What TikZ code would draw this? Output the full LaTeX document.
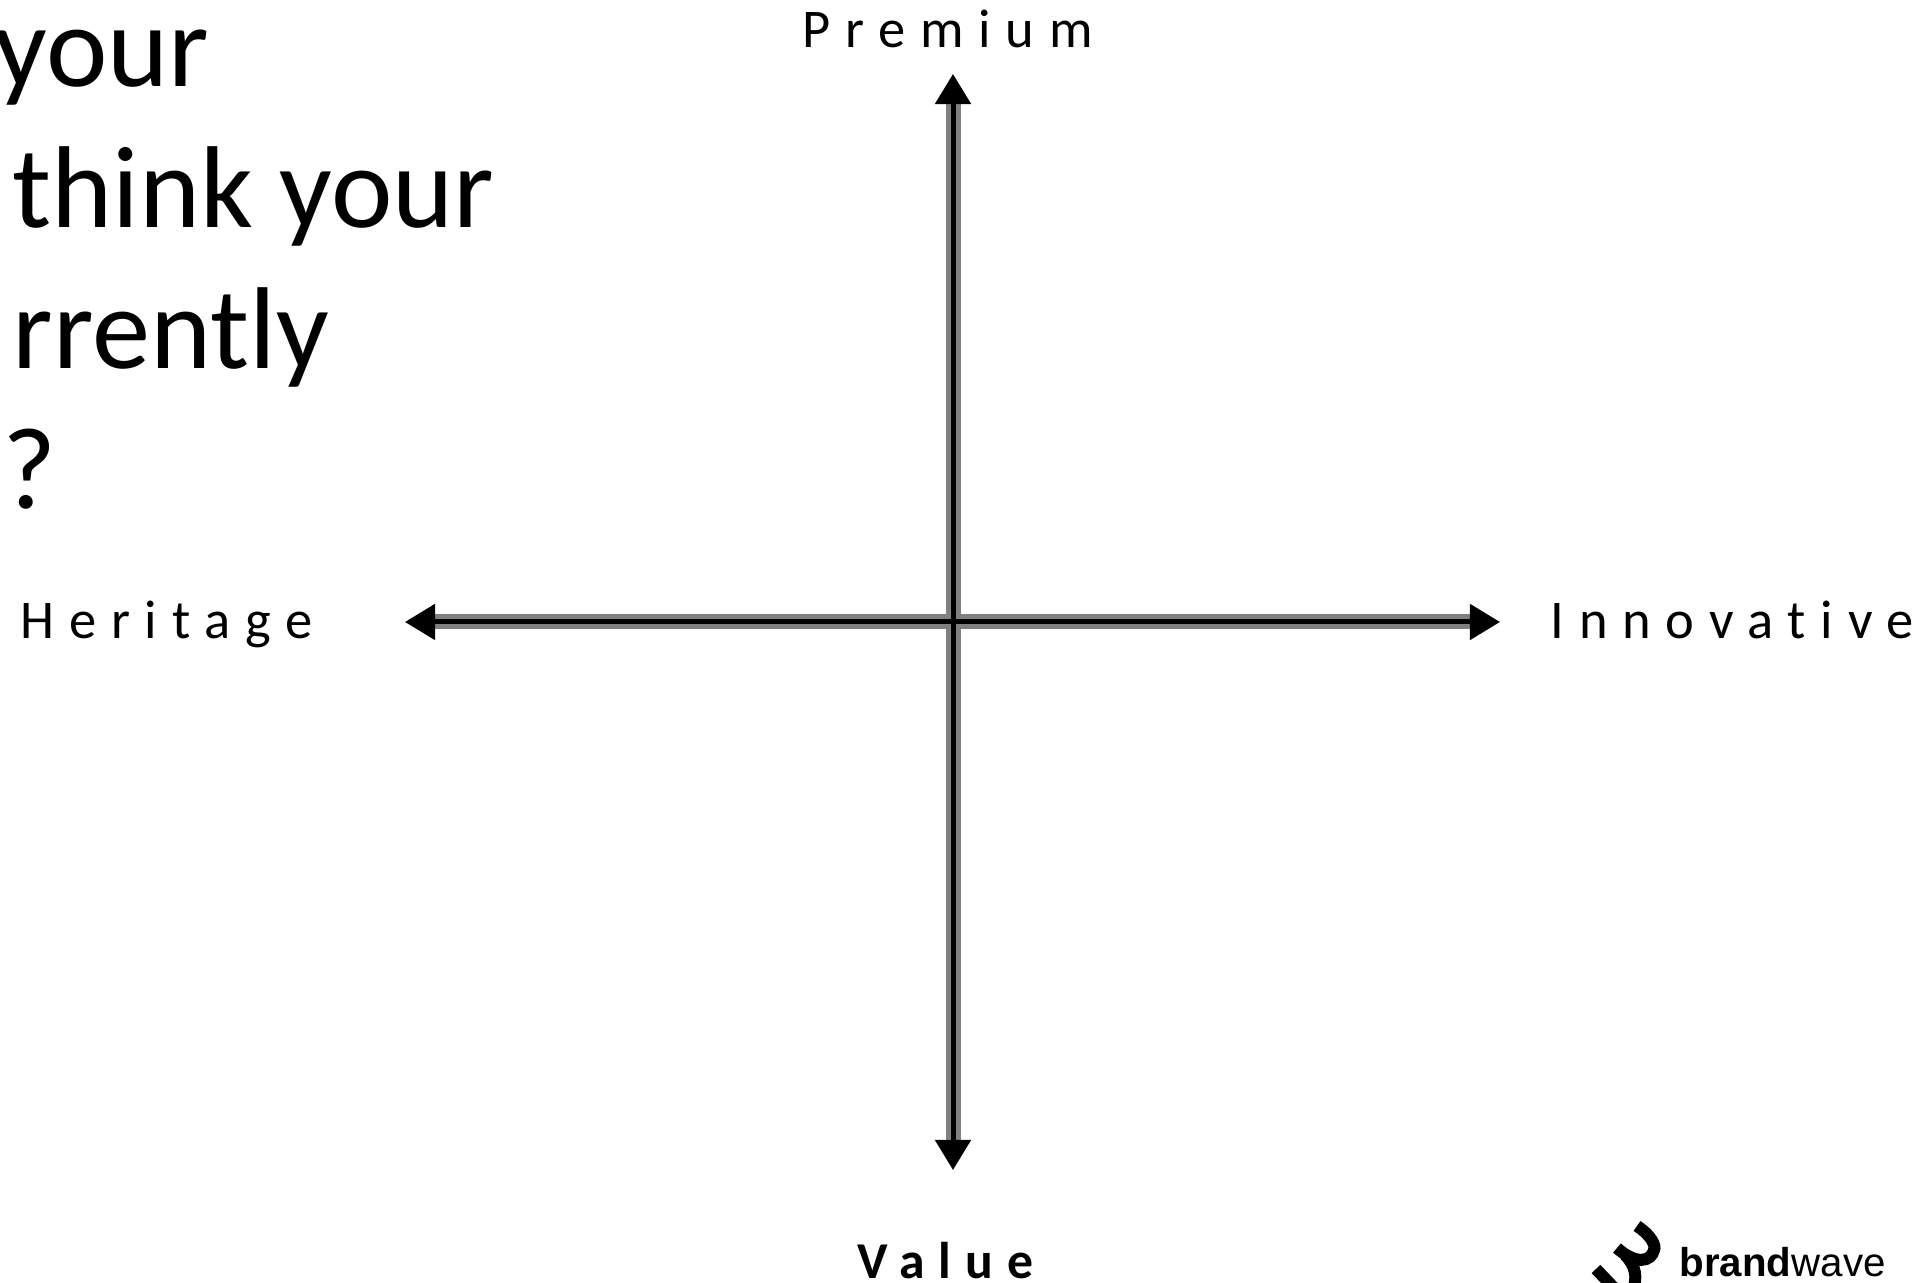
\documentclass[tikz,border=0pt]{standalone}
\usepackage{fontspec}
\setmainfont{Carlito}
\newfontfamily\logofont{Liberation Sans}
\usepackage{tikz}
\usetikzlibrary{arrows.meta, positioning}

\begin{document}
\begin{tikzpicture}[
    x=0.01cm, y=-0.01cm,
    headline/.style={anchor=base west, inner sep=0, font=\fontsize{33.1}{36}\selectfont},
    axislabel/.style={anchor=base west, inner sep=0, font=\fontsize{15.5}{18}\selectfont\addfontfeature{LetterSpace=27, Ligatures=NoCommon}},
    axishalo/.style={line width=0.15cm, draw=black!50},
    axiscore/.style={line width=0.05cm, draw=black, {Triangle[length=0.3cm, width=0.35cm]}-{Triangle[length=0.3cm, width=0.35cm]}},
    logostroke/.style={line width=0.12cm}
]
\useasboundingbox (0,0) rectangle (1926,1283);

\node[headline] (line1) at (-6,87) {your};
\node[headline] (line2) at (12,228) {think your};
\node[headline] (line3) at (12,369) {rrently};
\node[headline] (line4) at (2,509) {?};

\node[axislabel] (premium) at (802,48) {Premium};
\node[axislabel] (heritage) at (20,639) {Heritage};
\node[axislabel] (innovative) at (1550,639) {Innovative};
\node[axislabel, font=\fontsize{14.7}{18}\selectfont\bfseries\addfontfeature{LetterSpace=27}] (value) at (857,1279) {Value};

\coordinate (north) at (953,74);
\coordinate (south) at (953,1170);
\coordinate (west) at (405,622);
\coordinate (east) at (1500,622);

\draw[axishalo] (953,100) -- (953,1144);
\draw[axishalo] (431,622) -- (1474,622);
\draw[axiscore] (north) -- (south);
\draw[axiscore] (west) -- (east);

% logo
\draw[logostroke] (1637,1226) .. controls (1652,1236) and (1656,1246) .. (1654,1250) .. controls (1651,1262) and (1636,1265) .. (1617,1248);
\draw[logostroke] (1625,1255) .. controls (1636,1266) and (1638,1278) .. (1632,1292);
\draw[logostroke] (1596,1269) -- (1616,1290);

\node[anchor=base west, inner sep=0, font=\fontsize{11.45}{14}\logofont] (logotext) at (1679,1277) {\textbf{brand}wave};
\end{tikzpicture}
\end{document}
